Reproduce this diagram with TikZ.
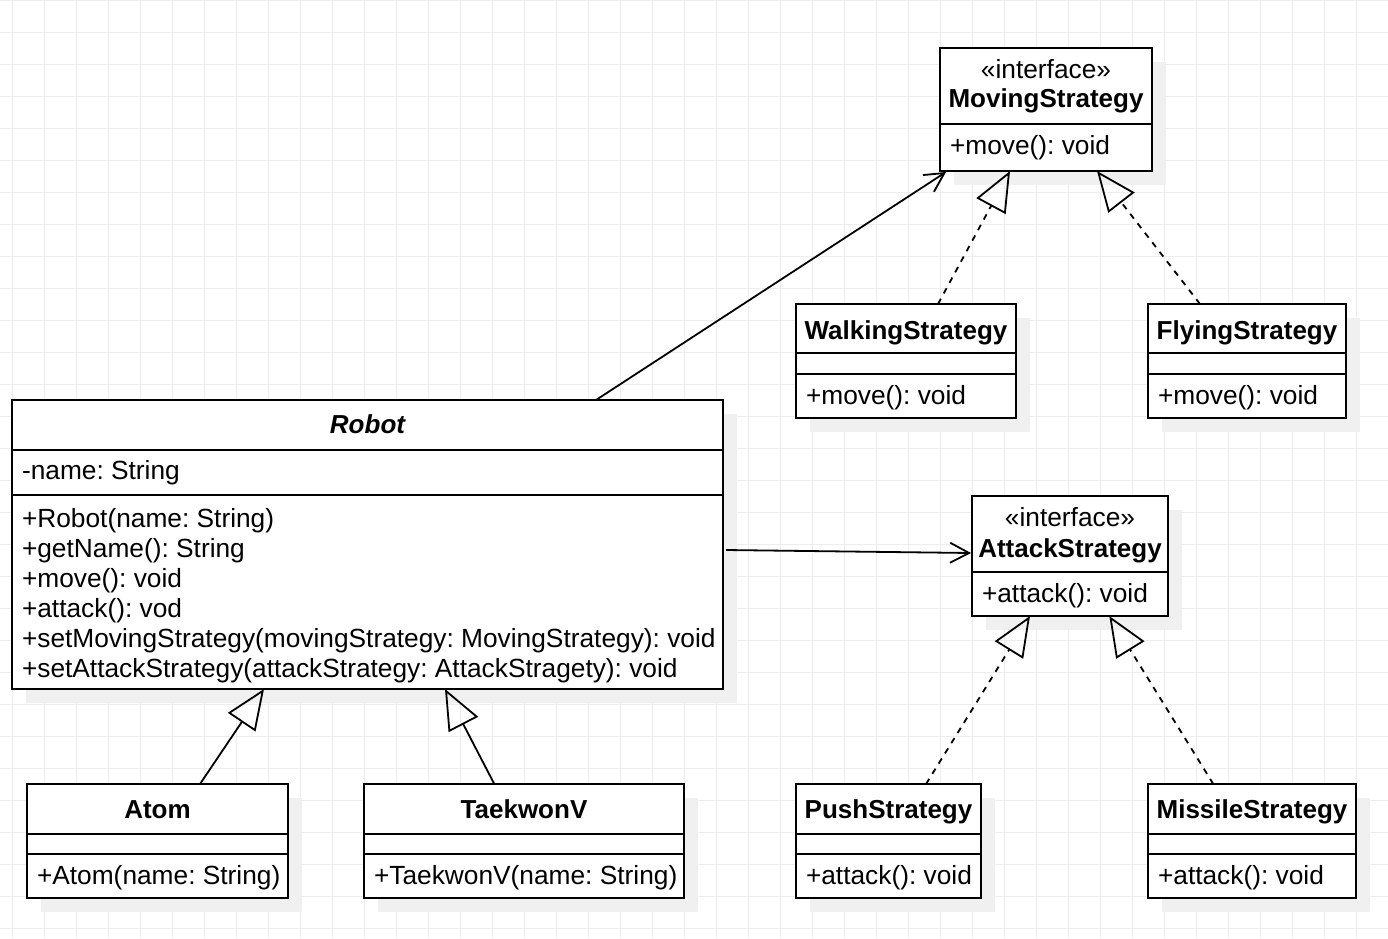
\documentclass[tikz,border=0pt]{standalone}
\usepackage{fontspec}
\setmainfont{Liberation Sans}
\usetikzlibrary{arrows.meta,shadows}
\definecolor{gridc}{RGB}{237,237,237}
\definecolor{shadowc}{RGB}{240,240,240}
\tikzset{
 classbox/.style={draw=black, line width=2.2pt, fill=white, anchor=north west, inner sep=0pt, outer sep=0pt,
   drop shadow={shadow xshift=14pt, shadow yshift=-14pt, fill=shadowc, opacity=1}},
 sepline/.style={line width=2.2pt},
 txt/.style={inner sep=0pt, outer sep=0pt, font=\fontsize{26.3}{30}\selectfont\frenchspacing},
 lefttxt/.style={txt, anchor=base west},
 titletxt/.style={txt, anchor=base, font=\fontsize{26}{30}\selectfont\bfseries},
 stereo/.style={txt, anchor=base},
 assoc/.style={line width=1.8pt, -{Straight Barb[length=19pt,width=20pt]}},
 inherit/.style={line width=1.8pt, -{Triangle[open,length=40pt,width=33pt]}},
 realize/.style={inherit, dash pattern=on 6pt off 6pt},
}
\begin{document}
\begin{tikzpicture}[x=1pt,y=-1pt]
\useasboundingbox (0,0) rectangle (1388,938);
\fill[white] (0,0) rectangle (1388,938);
\foreach \i in {0,...,43} \draw[gridc, line width=1pt] ({12+32*\i},0) -- ({12+32*\i},938);
\foreach \j in {0,...,29} \draw[gridc, line width=1pt] (0,{32*\j}) -- (1388,{32*\j});

% MovingStrategy
\node[classbox, minimum width=212pt, minimum height=123pt] (moving) at (940,48) {};
\draw[sepline] (940,124) -- (1152,124);
\node[stereo] (moving-st) at (1046,78) {«interface»};
\node[titletxt] (moving-nm) at (1046,107) {MovingStrategy};
\node[lefttxt] (moving-op) at (950,154) {+move(): void};

% AttackStrategy
\node[classbox, minimum width=196pt, minimum height=120pt] (attack) at (972,496) {};
\draw[sepline] (972,572) -- (1168,572);
\node[stereo] (attack-st) at (1070,526) {«interface»};
\node[titletxt] (attack-nm) at (1070,557) {AttackStrategy};
\node[lefttxt] (attack-op) at (982,602) {+attack(): void};

% WalkingStrategy
\node[classbox, minimum width=220pt, minimum height=114pt] (walk) at (796,304) {};
\draw[sepline] (796,353) -- (1016,353);
\draw[sepline] (796,374) -- (1016,374);
\node[titletxt] (walk-nm) at (906,339) {WalkingStrategy};
\node[lefttxt] (walk-op) at (806,404) {+move(): void};

% FlyingStrategy
\node[classbox, minimum width=198pt, minimum height=114pt] (fly) at (1148,304) {};
\draw[sepline] (1148,353) -- (1346,353);
\draw[sepline] (1148,374) -- (1346,374);
\node[titletxt] (fly-nm) at (1247,339) {FlyingStrategy};
\node[lefttxt] (fly-op) at (1158,404) {+move(): void};

% Robot
\node[classbox, minimum width=711pt, minimum height=289pt] (robot) at (12,400) {};
\draw[sepline] (12,450) -- (723,450);
\draw[sepline] (12,495) -- (723,495);
\node[titletxt, font=\fontsize{26}{30}\selectfont\bfseries\itshape] (robot-nm) at (367.5,433) {Robot};
\node[lefttxt] (robot-at) at (22,479) {-name: String};
\node[lefttxt] (robot-m1) at (22,527) {+Robot(name: String)};
\node[lefttxt] (robot-m2) at (22,557) {+getName(): String};
\node[lefttxt] (robot-m3) at (22,587) {+move(): void};
\node[lefttxt] (robot-m4) at (22,617) {+attack(): vod};
\node[lefttxt] (robot-m5) at (22,647) {+setMovingStrategy(movingStrategy: MovingStrategy): void};
\node[lefttxt] (robot-m6) at (22,677) {+setAttackStrategy(attackStrategy: AttackStragety): void};

% Atom
\node[classbox, minimum width=261pt, minimum height=114pt] (atom) at (27,784) {};
\draw[sepline] (27,834) -- (288,834);
\draw[sepline] (27,854) -- (288,854);
\node[titletxt] (atom-nm) at (157.5,818) {Atom};
\node[lefttxt] (atom-op) at (37,884) {+Atom(name: String)};

% TaekwonV
\node[classbox, minimum width=320pt, minimum height=114pt] (taek) at (364,784) {};
\draw[sepline] (364,834) -- (684,834);
\draw[sepline] (364,854) -- (684,854);
\node[titletxt] (taek-nm) at (524,818) {TaekwonV};
\node[lefttxt] (taek-op) at (374,884) {+TaekwonV(name: String)};

% PushStrategy
\node[classbox, minimum width=185pt, minimum height=114pt] (push) at (796,784) {};
\draw[sepline] (796,834) -- (981,834);
\draw[sepline] (796,854) -- (981,854);
\node[titletxt] (push-nm) at (888.5,818) {PushStrategy};
\node[lefttxt] (push-op) at (806,884) {+attack(): void};

% MissileStrategy
\node[classbox, minimum width=208pt, minimum height=114pt] (missile) at (1148,784) {};
\draw[sepline] (1148,834) -- (1356,834);
\draw[sepline] (1148,854) -- (1356,854);
\node[titletxt] (missile-nm) at (1252,818) {MissileStrategy};
\node[lefttxt] (missile-op) at (1158,884) {+attack(): void};

% connectors
\draw[assoc] ([xshift=228.5pt]robot.north) -- ([xshift=-100pt,yshift=-1pt]moving.south);
\draw[assoc] ([xshift=3pt,yshift=-5.5pt]robot.east) -- ([xshift=-1pt,yshift=3pt]attack.west);
\draw[realize] ([xshift=32pt]walk.north) -- ([xshift=-36pt]moving.south);
\draw[realize] ([xshift=-47pt]fly.north) -- ([xshift=51pt]moving.south);
\draw[inherit] ([xshift=42.5pt]atom.north) -- ([xshift=-103.5pt]robot.south);
\draw[inherit] ([xshift=-29.7pt]taek.north) -- ([xshift=77.5pt]robot.south);
\draw[realize] ([xshift=37.5pt]push.north) -- ([xshift=-40pt]attack.south);
\draw[realize] ([xshift=-38.7pt]missile.north) -- ([xshift=39.3pt]attack.south);
\end{tikzpicture}
\end{document}
